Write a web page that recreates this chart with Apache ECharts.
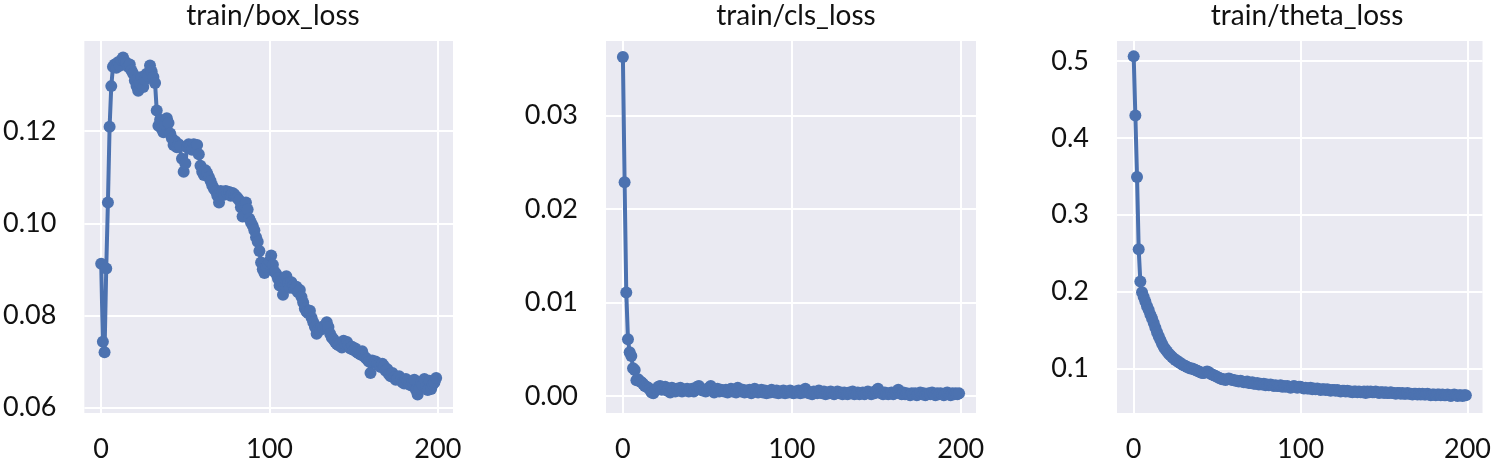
<!DOCTYPE html>
<html>
<head>
<meta charset="utf-8">
<script src="https://cdn.jsdelivr.net/npm/echarts@6/dist/echarts.min.js"></script>
<style>
  html, body { margin: 0; padding: 0; background: #ffffff; }
  #chart { width: 1494px; height: 463px; }
</style>
</head>
<body>
<div id="chart"></div>
<script>
// ---------- data ----------
const titles = ['train/box_loss', 'train/cls_loss', 'train/theta_loss'];
const xTickLabels = [0, 100, 200];
const yTicksBox = [0.06, 0.08, 0.10, 0.12];
const yTicksCls = [0.00, 0.01, 0.02, 0.03];
const yTicksTheta = [0.1, 0.2, 0.3, 0.4, 0.5];

const boxLoss = [
  0.0912, 0.0743, 0.0720, 0.0902, 0.1045, 0.1210, 0.1298, 0.1340, 0.1345, 0.1338,
  0.1350, 0.1342, 0.1355, 0.1360, 0.1352, 0.1348, 0.1340, 0.1345, 0.1332, 0.1325,
  0.1310, 0.1298, 0.1288, 0.1305, 0.1318, 0.1296, 0.1312, 0.1325, 0.1320, 0.1343,
  0.1330, 0.1318, 0.1305, 0.1245, 0.1212, 0.1225, 0.1205, 0.1198, 0.1215, 0.1228,
  0.1218, 0.1195, 0.1185, 0.1170, 0.1178, 0.1165, 0.1172, 0.1168, 0.1140, 0.1112,
  0.1130, 0.1165, 0.1172, 0.1168, 0.1160, 0.1172, 0.1165, 0.1170, 0.1150, 0.1125,
  0.1112, 0.1105, 0.1115, 0.1108, 0.1100, 0.1092, 0.1082, 0.1075, 0.1070, 0.1060,
  0.1045, 0.1070, 0.1068, 0.1062, 0.1070, 0.1065, 0.1068, 0.1060, 0.1066, 0.1063,
  0.1058, 0.1055, 0.1050, 0.1035, 0.1015, 0.1040, 0.1045, 0.1030, 0.1010, 0.1002,
  0.0995, 0.0985, 0.0970, 0.0960, 0.0940, 0.0915, 0.0900, 0.0892, 0.0905, 0.0912,
  0.0918, 0.0930, 0.0910, 0.0895, 0.0890, 0.0880, 0.0865, 0.0875, 0.0845, 0.0880,
  0.0885, 0.0870, 0.0860, 0.0872, 0.0865, 0.0858, 0.0862, 0.0850, 0.0855, 0.0840,
  0.0828, 0.0815, 0.0808, 0.0805, 0.0810, 0.0795, 0.0785, 0.0775, 0.0760, 0.0770,
  0.0768, 0.0775, 0.0772, 0.0778, 0.0785, 0.0775, 0.0760, 0.0752, 0.0748, 0.0742,
  0.0738, 0.0735, 0.0740, 0.0730, 0.0745, 0.0738, 0.0742, 0.0735, 0.0728, 0.0732,
  0.0725, 0.0728, 0.0720, 0.0718, 0.0715, 0.0722, 0.0712, 0.0708, 0.0705, 0.0700,
  0.0675, 0.0702, 0.0698, 0.0700, 0.0695, 0.0692, 0.0688, 0.0695, 0.0690, 0.0680,
  0.0683, 0.0672, 0.0668, 0.0675, 0.0665, 0.0660, 0.0662, 0.0668, 0.0660, 0.0655,
  0.0652, 0.0662, 0.0658, 0.0650, 0.0648, 0.0655, 0.0660, 0.0638, 0.0628, 0.0640,
  0.0655, 0.0648, 0.0662, 0.0645, 0.0638, 0.0658, 0.0640, 0.0650, 0.0655, 0.0664
];

const clsLoss = [
  0.0363, 0.0229, 0.0111, 0.0061, 0.0047, 0.0043, 0.0030, 0.0028, 0.0017, 0.0018,
  0.0016, 0.0015, 0.0013, 0.0011, 0.0010, 0.0009, 0.0007, 0.0004, 0.0003, 0.0006,
  0.0008, 0.0010, 0.0011, 0.0007, 0.0009, 0.0010, 0.0006, 0.0008, 0.0004, 0.0009,
  0.0007, 0.0005, 0.0008, 0.0006, 0.0009, 0.0005, 0.0007, 0.0006, 0.0008, 0.0005,
  0.0006, 0.0008, 0.0005, 0.0007, 0.0010, 0.0011, 0.0008, 0.0006, 0.0007, 0.0005,
  0.0006, 0.0009, 0.0011, 0.0007, 0.0004, 0.0006, 0.0008, 0.0005, 0.0007, 0.0006,
  0.0005, 0.0007, 0.0004, 0.0006, 0.0008, 0.0005, 0.0006, 0.0004, 0.0009, 0.0006,
  0.0005, 0.0007, 0.0004, 0.0006, 0.0005, 0.0007, 0.0003, 0.0005, 0.0008, 0.0006,
  0.0004, 0.0005, 0.0007, 0.0004, 0.0006, 0.0003, 0.0005, 0.0004, 0.0007, 0.0005,
  0.0004, 0.0006, 0.0003, 0.0005, 0.0004, 0.0006, 0.0003, 0.0005, 0.0004, 0.0006,
  0.0004, 0.0003, 0.0005, 0.0004, 0.0006, 0.0003, 0.0005, 0.0004, 0.0008, 0.0005,
  0.0003, 0.0004, 0.0002, 0.0005, 0.0004, 0.0003, 0.0006, 0.0004, 0.0003, 0.0005,
  0.0002, 0.0004, 0.0003, 0.0005, 0.0004, 0.0002, 0.0003, 0.0005, 0.0003, 0.0004,
  0.0002, 0.0004, 0.0003, 0.0002, 0.0004, 0.0003, 0.0005, 0.0002, 0.0003, 0.0004,
  0.0002, 0.0003, 0.0004, 0.0002, 0.0003, 0.0005, 0.0003, 0.0002, 0.0004, 0.0003,
  0.0006, 0.0008, 0.0004, 0.0003, 0.0002, 0.0004, 0.0003, 0.0002, 0.0003, 0.0004,
  0.0002, 0.0003, 0.0005, 0.0007, 0.0003, 0.0002, 0.0004, 0.0002, 0.0003, 0.0002,
  0.0001, 0.0003, 0.0002, 0.0003, 0.0001, 0.0002, 0.0004, 0.0002, 0.0003, 0.0001,
  0.0002, 0.0003, 0.0002, 0.0004, 0.0002, 0.0001, 0.0003, 0.0002, 0.0003, 0.0002,
  0.0001, 0.0003, 0.0004, 0.0002, 0.0001, 0.0003, 0.0002, 0.0003, 0.0002, 0.0003
];

const thetaLoss = [
  0.506, 0.429, 0.349, 0.255, 0.213, 0.199, 0.193, 0.187, 0.181, 0.176,
  0.170, 0.165, 0.159, 0.153, 0.147, 0.142, 0.137, 0.132, 0.128, 0.125,
  0.122, 0.119, 0.117, 0.115, 0.113, 0.111, 0.110, 0.108, 0.107, 0.105,
  0.104, 0.103, 0.102, 0.101, 0.100, 0.100, 0.099, 0.098, 0.097, 0.096,
  0.095, 0.094, 0.094, 0.095, 0.096, 0.095, 0.093, 0.092, 0.091, 0.090,
  0.089, 0.088, 0.087, 0.086, 0.086, 0.085, 0.086, 0.087, 0.086, 0.085,
  0.085, 0.084, 0.084, 0.083, 0.084, 0.083, 0.082, 0.082, 0.083, 0.081,
  0.081, 0.082, 0.080, 0.080, 0.081, 0.079, 0.080, 0.079, 0.080, 0.078,
  0.079, 0.078, 0.079, 0.078, 0.077, 0.078, 0.077, 0.077, 0.078, 0.076,
  0.077, 0.076, 0.077, 0.076, 0.075, 0.076, 0.077, 0.076, 0.075, 0.076,
  0.076, 0.075, 0.074, 0.075, 0.074, 0.074, 0.075, 0.073, 0.074, 0.073,
  0.074, 0.073, 0.072, 0.073, 0.073, 0.072, 0.073, 0.072, 0.071, 0.072,
  0.072, 0.071, 0.072, 0.071, 0.070, 0.071, 0.071, 0.070, 0.071, 0.070,
  0.070, 0.069, 0.070, 0.070, 0.069, 0.070, 0.069, 0.069, 0.070, 0.068,
  0.070, 0.069, 0.070, 0.069, 0.069, 0.070, 0.069, 0.068, 0.069, 0.069,
  0.068, 0.069, 0.068, 0.068, 0.069, 0.068, 0.068, 0.067, 0.068, 0.068,
  0.067, 0.068, 0.067, 0.067, 0.068, 0.067, 0.067, 0.066, 0.067, 0.067,
  0.066, 0.067, 0.066, 0.067, 0.066, 0.066, 0.067, 0.066, 0.065, 0.066,
  0.066, 0.065, 0.066, 0.066, 0.065, 0.066, 0.065, 0.065, 0.066, 0.065,
  0.064, 0.065, 0.066, 0.065, 0.064, 0.065, 0.065, 0.064, 0.065, 0.065
];

// ---------- styling / layout ----------
const BLUE = '#4c72b0';
const BG = '#eaeaf2';
const TXT = '#111111';
const FONT = 'Lato';
const FS = 27;
const TITLE_FS = 28;

const panels = [
  { data: boxLoss,   ticks: yTicksBox,   ymin: 0.0588,  ymax: 0.1396, yint: 0.0004, left: 83,   dec: 2 },
  { data: clsLoss,   ticks: yTicksCls,   ymin: -0.0018, ymax: 0.0380, yint: 0.0002, left: 606,  dec: 2 },
  { data: thetaLoss, ticks: yTicksTheta, ymin: 0.042,   ymax: 0.526,  yint: 0.002,  left: 1117, dec: 1 }
];
const GRID_TOP = 41, GRID_W = 370, GRID_H = 374;
const XMIN = -10, XMAX = 209, XINT = 1;

function isTick(v, list) {
  for (const t of list) if (Math.abs(v - t) < 1e-9) return true;
  return false;
}
// split-line colour array: white only at the requested tick values
function gridColors(min, step, count, list) {
  const arr = [];
  for (let i = 0; i <= count; i++) {
    const v = min + i * step;
    arr.push(isTick(v, list) ? '#ffffff' : 'rgba(255,255,255,0)');
  }
  return arr;
}

const grids = [], xAxes = [], yAxes = [], series = [], titleArr = [];
panels.forEach((p, k) => {
  grids.push({
    left: p.left, top: GRID_TOP, width: GRID_W, height: GRID_H,
    show: true, backgroundColor: BG, borderWidth: 0, containLabel: false
  });
  const xCount = Math.round((XMAX - XMIN) / XINT);
  xAxes.push({
    type: 'value', gridIndex: k, min: XMIN, max: XMAX, interval: XINT,
    axisLine: { show: false }, axisTick: { show: false },
    axisLabel: {
      margin: 23, color: TXT, fontFamily: FONT, fontSize: FS,
      formatter: v => isTick(v, xTickLabels) ? String(Math.round(v)) : ''
    },
    splitLine: { show: true, lineStyle: { width: 2, color: gridColors(XMIN, XINT, xCount, xTickLabels) } }
  });
  const yCount = Math.round((p.ymax - p.ymin) / p.yint);
  yAxes.push({
    type: 'value', gridIndex: k, min: p.ymin, max: p.ymax, interval: p.yint,
    axisLine: { show: false }, axisTick: { show: false },
    axisLabel: {
      margin: 28, color: TXT, fontFamily: FONT, fontSize: FS,
      formatter: v => isTick(v, p.ticks) ? v.toFixed(p.dec) : ''
    },
    splitLine: { show: true, lineStyle: { width: 2, color: gridColors(p.ymin, p.yint, yCount, p.ticks) } }
  });
  series.push({
    type: 'line', xAxisIndex: k, yAxisIndex: k,
    data: p.data.map((v, i) => [i, v]),
    symbol: 'circle', symbolSize: 12, showSymbol: true,
    itemStyle: { color: BLUE },
    lineStyle: { color: BLUE, width: 4 },
    animation: false, silent: true
  });
  titleArr.push({
    text: titles[k], left: p.left + GRID_W / 2, top: -3, textAlign: 'center',
    textStyle: { color: TXT, fontFamily: FONT, fontSize: TITLE_FS, fontWeight: 'normal' }
  });
});

const chart = echarts.init(document.getElementById('chart'), null, { renderer: 'canvas' });
chart.setOption({
  backgroundColor: '#ffffff',
  animation: false,
  title: titleArr,
  grid: grids,
  xAxis: xAxes,
  yAxis: yAxes,
  series: series
});
</script>
</body>
</html>
